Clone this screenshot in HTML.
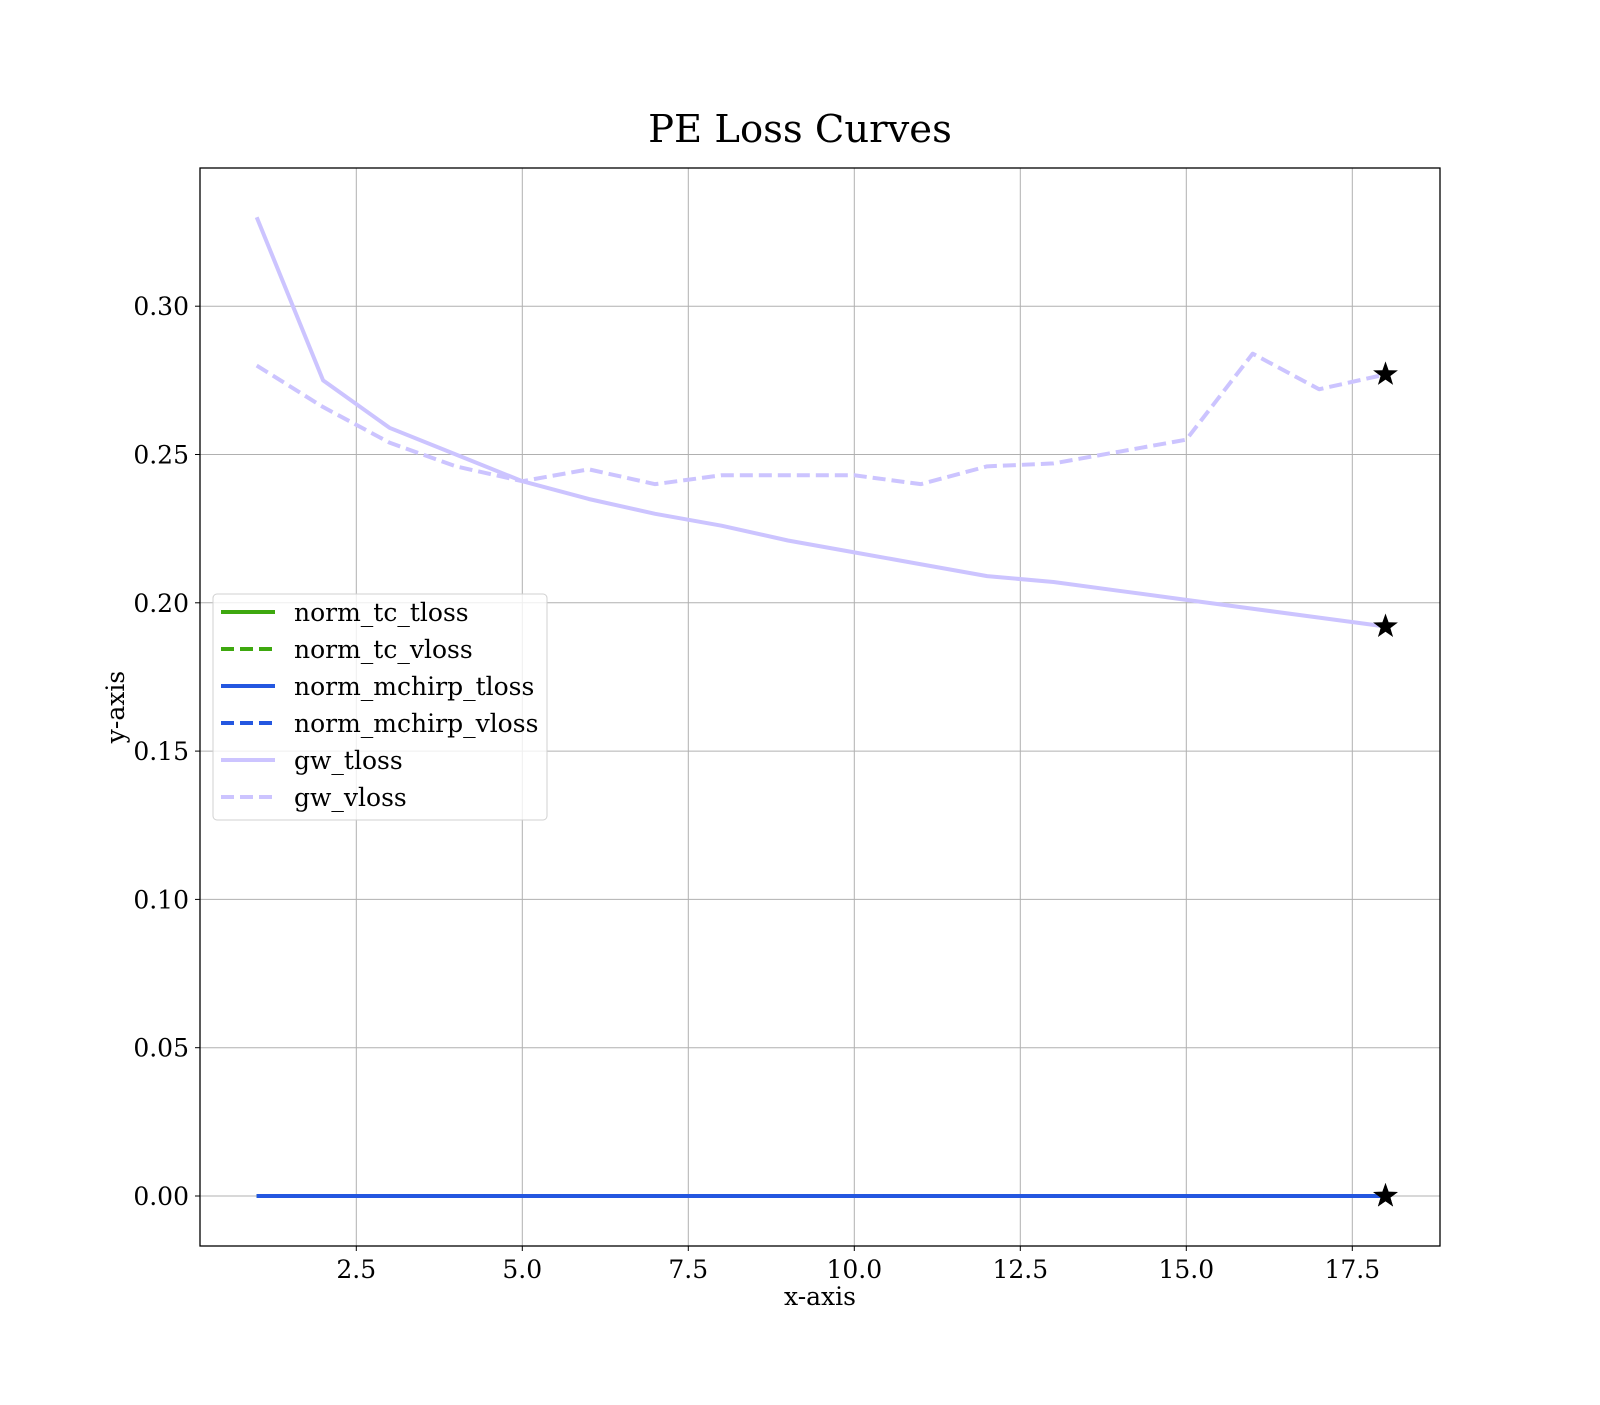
<!DOCTYPE html>
<html><head><meta charset="utf-8"><style>
body{margin:0;background:#fff;}
svg text{font-family:"DejaVu Serif","Liberation Serif",serif;fill:#000;}
</style></head><body>
<svg id="chart" width="1600" height="1400" viewBox="0 0 1600 1400" xmlns="http://www.w3.org/2000/svg">
<rect width="1600" height="1400" fill="#fff"/>
<text x="800" y="142" font-size="38.5" text-anchor="middle">PE Loss Curves</text>
<g id="grid"></g>
<g id="series"></g>
<rect x="200" y="168" width="1240" height="1078" fill="none" stroke="#000" stroke-width="1.3"/>
<g id="ticks"></g>
<text x="820" y="1305" font-size="25" text-anchor="middle">x-axis</text>
<text transform="translate(124,707) rotate(-90)" font-size="25" text-anchor="middle">y-axis</text>
<g id="legend"></g>
</svg>
<script>
const epochs=[1,2,3,4,5,6,7,8,9,10,11,12,13,14,15,16,17,18];
const gwTloss=[0.330,0.275,0.259,0.250,0.241,0.235,0.230,0.226,0.221,0.217,0.213,0.209,0.207,0.204,0.201,0.198,0.195,0.192];
const gwVloss=[0.280,0.266,0.254,0.246,0.241,0.245,0.240,0.243,0.243,0.243,0.240,0.246,0.247,0.251,0.255,0.284,0.272,0.277];
const tcTloss=[0,0,0,0,0,0,0,0,0,0,0,0,0,0,0,0,0,0];
const tcVloss=[0,0,0,0,0,0,0,0,0,0,0,0,0,0,0,0,0,0];
const mcTloss=[0,0,0,0,0,0,0,0,0,0,0,0,0,0,0,0,0,0];
const mcVloss=[0,0,0,0,0,0,0,0,0,0,0,0,0,0,0,0,0,0];
const xTicks=[2.5,5.0,7.5,10.0,12.5,15.0,17.5];
const yTicks=[0.00,0.05,0.10,0.15,0.20,0.25,0.30];
const legendLabels=["norm_tc_tloss","norm_tc_vloss","norm_mchirp_tloss","norm_mchirp_vloss","gw_tloss","gw_vloss"];

const X=v=>256.7+(v-1)*66.4;
const Y=v=>1196-v*2966;
const NS="http://www.w3.org/2000/svg";
function mk(tag,attrs,parent){const e=document.createElementNS(NS,tag);for(const k in attrs)e.setAttribute(k,attrs[k]);parent.appendChild(e);return e;}
const grid=document.getElementById('grid'),ticks=document.getElementById('ticks'),series=document.getElementById('series'),legend=document.getElementById('legend');
xTicks.forEach(t=>{
  const g=mk('line',{x1:X(t),x2:X(t),y1:168,y2:1246,stroke:'#b0b0b0','stroke-width':1},grid);
  
  
  mk('line',{x1:X(t),x2:X(t),y1:1246,y2:1251,stroke:'#000','stroke-width':1},ticks);
  const tx=mk('text',{x:X(t),y:1278,'font-size':25,'text-anchor':'middle'},ticks);
  tx.textContent=t.toFixed(1);
  
  
});
yTicks.forEach(t=>{
  const g=mk('line',{x1:200,x2:1440,y1:Y(t),y2:Y(t),stroke:'#b0b0b0','stroke-width':1},grid);
  
  
  mk('line',{x1:195,x2:200,y1:Y(t),y2:Y(t),stroke:'#000','stroke-width':1},ticks);
  const tx=mk('text',{x:189,y:Y(t)+9,'font-size':25,'text-anchor':'end'},ticks);
  tx.textContent=t.toFixed(2);
  
  
});
const defs=[
 [tcTloss,'#3ea80f',null,'norm-tc-tloss-line'],
 [tcVloss,'#3ea80f','13,6','norm-tc-vloss-line'],
 [mcTloss,'#2457e0',null,'norm-mchirp-tloss-line'],
 [mcVloss,'#2457e0','13,6','norm-mchirp-vloss-line'],
 [gwTloss,'#ccc4ff',null,'gw-tloss-line'],
 [gwVloss,'#ccc4ff','13,6','gw-vloss-line']];
defs.forEach(([d,c,dash,name])=>{
  const p=mk('polyline',{points:d.map((v,i)=>X(epochs[i])+','+Y(v)).join(' '),fill:'none',stroke:c,'stroke-width':4,'stroke-linejoin':'round'},series);
  if(dash)p.setAttribute('stroke-dasharray',dash);
  
  
});
function star(cx,cy,r){let pts=[];for(let i=0;i<10;i++){const a=-Math.PI/2+i*Math.PI/5;const rr=i%2?r*0.4:r;pts.push((cx+rr*Math.cos(a)).toFixed(1)+','+(cy+rr*Math.sin(a)).toFixed(1));}return pts.join(' ');}
[tcVloss,mcVloss,gwTloss,gwVloss].forEach(d=>{
  const last=d.length-1;
  const s=mk('polygon',{points:star(X(epochs[last]),Y(d[last]),13),fill:'#000'},series);
  
  
});
const lb=mk('rect',{x:213,y:594,width:334,height:226,rx:4,fill:'#fff','fill-opacity':0.8,stroke:'#d0d0d0','stroke-width':1},legend);


legendLabels.forEach((lab,i)=>{
  const y=612+i*37;
  const l=mk('line',{x1:221,x2:275,y1:y,y2:y,stroke:defs[i][1],'stroke-width':4},legend);
  if(defs[i][2])l.setAttribute('stroke-dasharray','13,6');
  
  
  const t=mk('text',{x:294,y:y+9,'font-size':25},legend);
  t.textContent=lab;
  
  
});
</script>
</body></html>
